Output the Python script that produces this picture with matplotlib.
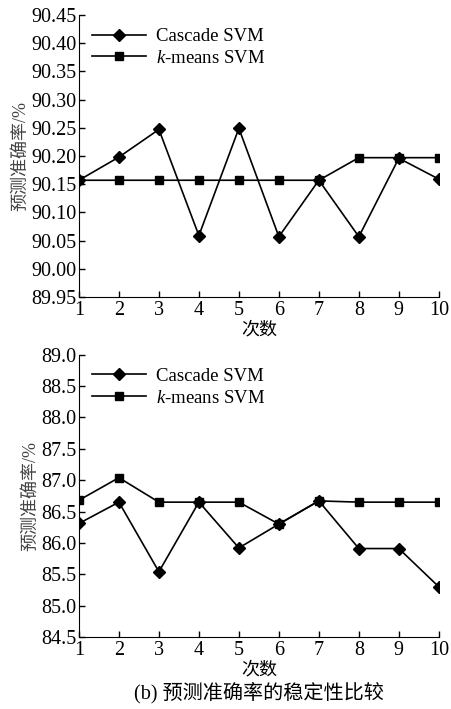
import matplotlib
matplotlib.use("Agg")
import matplotlib.pyplot as plt

plt.rcParams['font.family'] = ['Liberation Serif', 'Noto Sans CJK SC']
plt.rcParams['font.size'] = 13
plt.rcParams['mathtext.fontset'] = 'custom'
plt.rcParams['mathtext.it'] = 'Liberation Serif:italic'
plt.rcParams['mathtext.rm'] = 'Liberation Serif'

runs = [1, 2, 3, 4, 5, 6, 7, 8, 9, 10]

# (a) 上图
cascade_a = [90.157, 90.198, 90.247, 90.059, 90.249, 90.057, 90.157, 90.057, 90.196, 90.159]
kmeans_a = [90.157, 90.157, 90.157, 90.157, 90.157, 90.157, 90.157, 90.197, 90.197, 90.197]
yticks_a = [89.95, 90.00, 90.05, 90.10, 90.15, 90.20, 90.25, 90.30, 90.35, 90.40, 90.45]

# (b) 下图
cascade_b = [86.31, 86.65, 85.54, 86.65, 85.92, 86.30, 86.67, 85.91, 85.91, 85.30]
kmeans_b = [86.68, 87.04, 86.65, 86.65, 86.65, 86.30, 86.67, 86.65, 86.65, 86.65]
yticks_b = [84.5, 85.0, 85.5, 86.0, 86.5, 87.0, 87.5, 88.0, 88.5, 89.0]

fig = plt.figure(figsize=(4.51, 7.09), dpi=100)
ax1 = fig.add_axes([0.175, 0.581, 0.798, 0.398])
ax2 = fig.add_axes([0.175, 0.1016, 0.798, 0.398])


def draw(ax, c, k, yt, fmt):
    ax.plot(runs, c, color='black', lw=1.2, marker='D', ms=6, label='Cascade SVM')
    ax.plot(runs, k, color='black', lw=1.2, marker='s', ms=6, label='$k$-means SVM')
    ax.set_xlim(1, 10)
    ax.set_ylim(yt[0], yt[-1])
    ax.set_xticks(runs)
    ax.set_yticks(yt)
    ax.set_yticklabels([fmt % v for v in yt])
    ax.spines['top'].set_visible(False)
    ax.spines['right'].set_visible(False)
    ax.tick_params(direction='in', length=4, width=1, labelsize=14.5)
    ax.tick_params(axis='x', pad=3)
    ax.tick_params(axis='y', pad=2)
    ax.set_xlabel('次数', labelpad=1)
    ax.set_ylabel('预测准确率/%', labelpad=1, color='#444444')
    ax.legend(loc='upper left', frameon=False, handlelength=2.9, fontsize=13.5,
              borderaxespad=0.3, labelspacing=0.25, handletextpad=0.5)


draw(ax1, cascade_a, kmeans_a, yticks_a, '%.2f')
draw(ax2, cascade_b, kmeans_b, yticks_b, '%.1f')

fig.text(0.575, 0.008, '(b) 预测准确率的稳定性比较', ha='center', va='bottom', fontsize=14.5)

fig.savefig('out.png', dpi=100)
